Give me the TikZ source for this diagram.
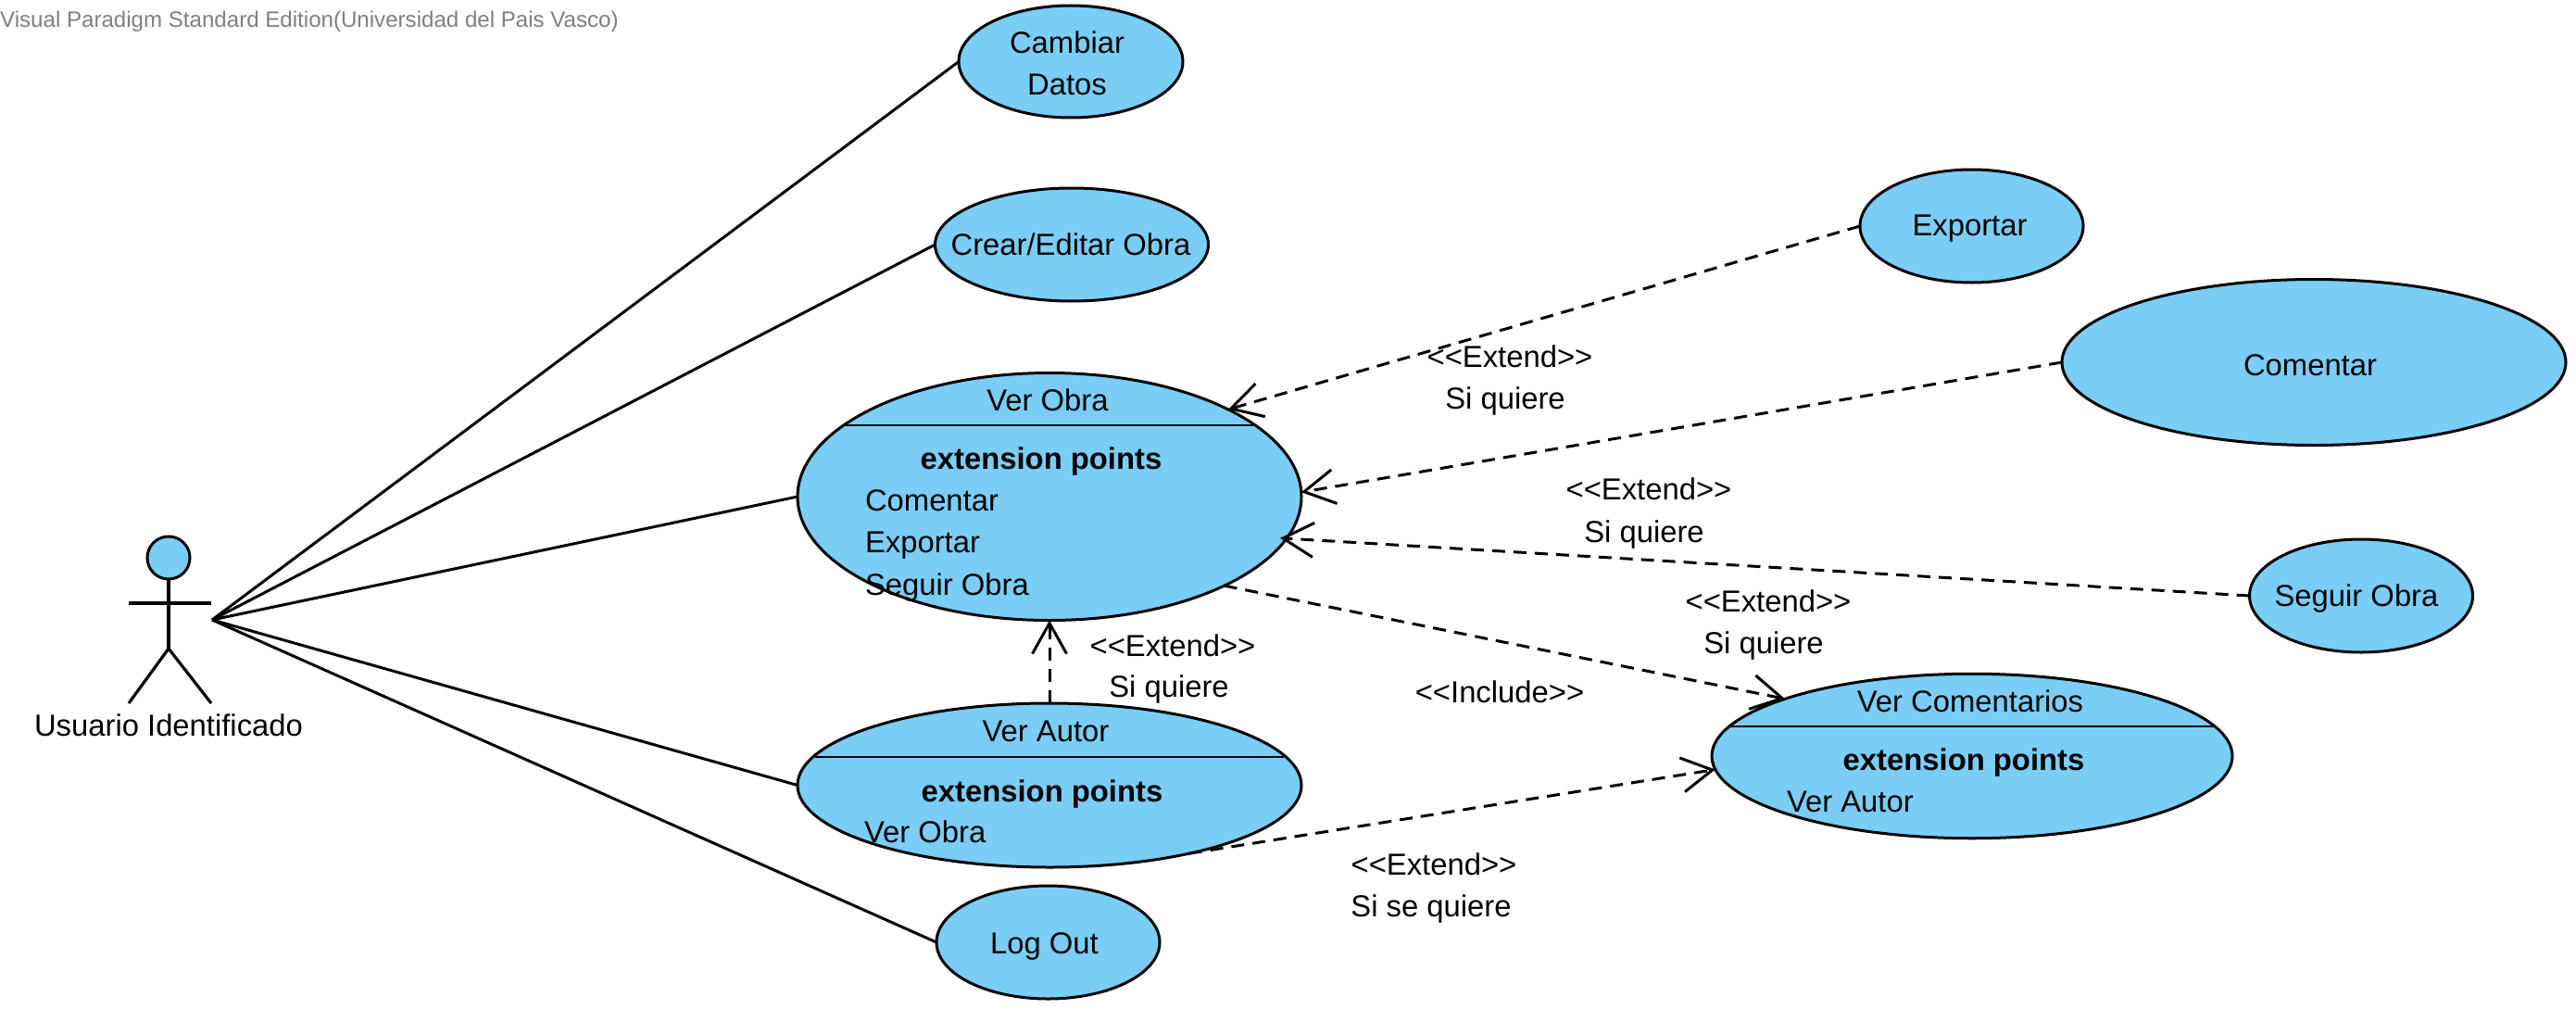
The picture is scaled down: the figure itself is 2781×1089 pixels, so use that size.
\documentclass[tikz,border=0pt]{standalone}
\usepackage{fontspec}
\setmainfont{Liberation Sans}
\usetikzlibrary{shapes.geometric,arrows.meta}
\definecolor{ucfill}{HTML}{7ACEF5}
\definecolor{wmgray}{HTML}{808080}
\newcommand{\mainsz}{\fontsize{32.8pt}{44.5pt}\selectfont}
\tikzset{
  uc/.style={ellipse,draw=black,fill=ucfill,line width=3pt,inner sep=0pt,outer sep=0pt},
  uctext/.style={inner sep=0pt,outer sep=0pt,align=center,font=\mainsz,yshift=-3pt},
  txt/.style={anchor=base,inner sep=0pt,outer sep=0pt,font=\mainsz},
  txtl/.style={anchor=base west,inner sep=0pt,outer sep=0pt,font=\mainsz},
  txtb/.style={anchor=base,inner sep=0pt,outer sep=0pt,font=\mainsz\bfseries},
  assoc/.style={draw=black,line width=3pt},
  divider/.style={draw=black,line width=2.5pt},
  dep/.style={draw=black,line width=3pt,dash pattern=on 14pt off 9pt,-{Straight Barb[length=33pt,width=37pt,line width=3pt]}},
  limb/.style={draw=black,line width=3.2pt}
}
\begin{document}
\begin{tikzpicture}[x=1pt,y=-1pt]
\path[use as bounding box,fill=white] (0,0) rectangle (2781,1089);
\node[anchor=base west,inner sep=0pt,text=wmgray,font=\fontsize{24.1pt}{28pt}\selectfont] (wm) at (0,30) {Visual Paradigm Standard Edition(Universidad del Pais Vasco)};
% actor
\node[circle,draw=black,fill=ucfill,line width=3pt,minimum size=46pt,inner sep=0pt,outer sep=0pt] (head) at (182,602) {};
\coordinate (hip) at (182,700);
\coordinate (armL) at (139,651);
\coordinate (armR) at (228,651);
\coordinate (legL) at (139,759);
\coordinate (legR) at (228,759);
\coordinate (hub) at (229,669);
\draw[limb] (head.south) -- (hip);
\draw[limb] (armL) -- (armR);
\draw[limb] (legL) -- (hip) -- (legR);
\node[txt] (actorlabel) at (182,794) {Usuario Identificado};
% use cases
\node[uc,minimum width=242pt,minimum height=121pt] (cambiar) at (1156,66.5) {};
\node[uc,minimum width=295pt,minimum height=122pt] (crear) at (1157,264) {};
\node[uc,minimum width=544pt,minimum height=267pt] (verobra) at (1133,536) {};
\node[uc,minimum width=544pt,minimum height=177pt] (verautor) at (1133,847.5) {};
\node[uc,minimum width=241pt,minimum height=122pt] (logout) at (1131.5,1017) {};
\node[uc,minimum width=241pt,minimum height=122pt] (exportar) at (2128.5,244) {};
\node[uc,minimum width=544pt,minimum height=179pt] (comentar) at (2498,391) {};
\node[uc,minimum width=241pt,minimum height=122pt] (seguir) at (2549,643) {};
\node[uc,minimum width=562pt,minimum height=177.5pt] (vercom) at (2129,816) {};
\node[uctext,yshift=1pt,xshift=-4pt] (cambiart) at (cambiar) {Cambiar\\Datos};
\node[uctext,yshift=3pt,xshift=-1pt] (creart) at (crear) {Crear/Editar Obra};
\node[uctext,yshift=-1pt,xshift=-4pt] (logoutt) at (logout) {Log Out};
\node[uctext,xshift=-2pt] (exportart) at (exportar) {Exportar};
\node[uctext,xshift=-4pt] (comentart) at (comentar) {Comentar};
\node[uctext,xshift=-5pt] (seguirt) at (seguir) {Seguir Obra};
% compartments
\coordinate (voL) at (909,459);
\coordinate (voR) at (1354,459);
\coordinate (vaL) at (880,817);
\coordinate (vaR) at (1386,817);
\coordinate (vcL) at (1867,784);
\coordinate (vcR) at (2391,784);
\draw[divider] (voL) -- (voR);
\draw[divider] (vaL) -- (vaR);
\draw[divider] (vcL) -- (vcR);
\node[txt] (vo1) at (1131,443) {Ver Obra};
\node[txtb] (vo2) at (1124,506) {extension points};
\node[txtl] (vo3) at (934,551) {Comentar};
\node[txtl] (vo4) at (934,596) {Exportar};
\node[txtl] (vo5) at (934,642) {Seguir Obra};
\node[txt] (va1) at (1129,800) {Ver Autor};
\node[txtb] (va2) at (1125,865) {extension points};
\node[txtl] (va3) at (933,909) {Ver Obra};
\node[txt] (vc1) at (2127,768) {Ver Comentarios};
\node[txtb] (vc2) at (2120,831) {extension points};
\node[txtl] (vc3) at (1929,876) {Ver Autor};
% associations
\draw[assoc] (hub) -- (cambiar.west);
\draw[assoc] (hub) -- (crear.west);
\draw[assoc] (hub) -- (verobra.west);
\draw[assoc] (hub) -- (verautor.west);
\draw[assoc] (hub) -- (logout.west);
% dependencies
\draw[dep] (exportar.west) -- (verobra.26);
\draw[dep] (comentar.west) -- (verobra.1);
\draw[dep,shorten >=-7pt] (seguir.west) -- (verobra.-10);
\draw[dep] (verobra.-27) -- (vercom.163);
\draw[dep] (verautor.north) -- (verobra.south);
\draw[dep] (verautor.-26) -- (vercom.183);
% labels
\node[txt] (l1a) at (1630,396) {<{}<Extend>{}>};
\node[txt] (l1b) at (1625,441) {Si quiere};
\node[txt] (l2a) at (1780,539) {<{}<Extend>{}>};
\node[txt] (l2b) at (1775,585) {Si quiere};
\node[txt] (l3a) at (1909,660) {<{}<Extend>{}>};
\node[txt] (l3b) at (1904,705) {Si quiere};
\node[txt] (l4a) at (1266,708) {<{}<Extend>{}>};
\node[txt] (l4b) at (1262,752) {Si quiere};
\node[txt] (l5) at (1619,758) {<{}<Include>{}>};
\node[txt] (l6a) at (1548,944) {<{}<Extend>{}>};
\node[txt] (l6b) at (1545,989) {Si se quiere};
\end{tikzpicture}
\end{document}
